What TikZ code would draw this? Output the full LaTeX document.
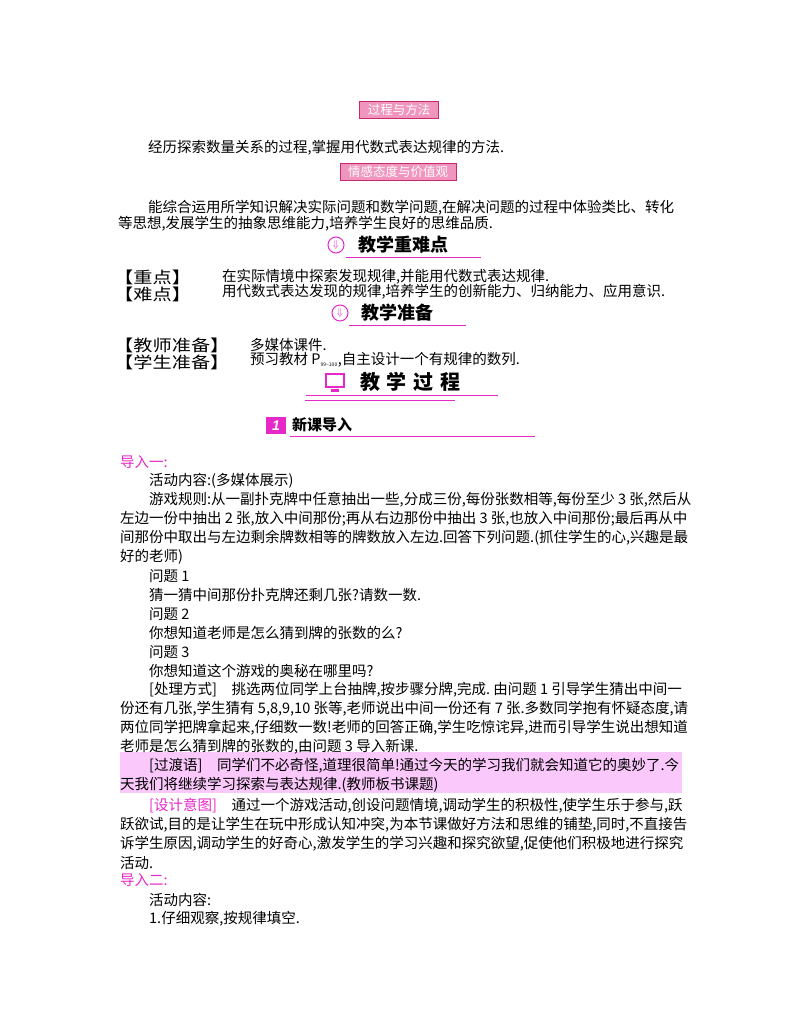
\documentclass[tikz,border=0pt]{standalone}
\usepackage{fontspec}
\setmainfont{Liberation Sans}
\newfontfamily\cjk{Noto Sans CJK SC}
\definecolor{pk}{RGB}{230,40,200}
\definecolor{hl}{RGB}{250,200,250}
\definecolor{hd}{RGB}{200,40,110}
\definecolor{bx}{RGB}{240,150,190}
\begin{document}
\begin{tikzpicture}[x=1pt,y=-1pt,
  ln/.style={anchor=west,inner sep=0pt,font=\cjk\fontsize{14.5}{16}\selectfont},
  lb/.style={anchor=west,inner sep=0pt,font=\cjk\fontsize{16}{16}\selectfont},
  tag/.style={draw=hd,fill=bx,text=white,inner xsep=8pt,inner ysep=2.5pt,line width=0.8pt,font=\cjk\fontsize{12.5}{14}\selectfont},
  hdr/.style={anchor=west,inner sep=0pt,font=\cjk\bfseries\fontsize{18}{20}\selectfont},
  icon/.style={circle,draw=pk,line width=1pt,minimum size=16pt,inner sep=0pt},
  ul/.style={draw=pk,line width=0.7pt}]
\useasboundingbox (0,0) rectangle (800,1028);
\fill[hl] (120,752) rectangle (682,793);
\node[tag] (t1) at (399,110) {过程与方法};
\node[ln] (l1) at (148,148) {经历探索数量关系的过程,掌握用代数式表达规律的方法.};
\node[tag] (t2) at (398,172) {情感态度与价值观};
\node[ln] (l2) at (148,208) {能综合运用所学知识解决实际问题和数学问题,在解决问题的过程中体验类比、转化};
\node[ln] (l3) at (118,224) {等思想,发展学生的抽象思维能力,培养学生良好的思维品质.};
\node[icon] (i1) at (336,245) {\textcolor{pk}{$\Downarrow$}};
\node[hdr] (h1) at (358,245) {教学重难点};
\draw[ul] (346,257) -- (481,257);
\node[lb,xscale=1.2,anchor=west] (z1) at (114,277) {【重点】};
\node[ln] (z1t) at (222,277) {在实际情境中探索发现规律,并能用代数式表达规律.};
\node[lb,xscale=1.2] (z2) at (114,294) {【难点】};
\node[ln] (z2t) at (222,292) {用代数式表达发现的规律,培养学生的创新能力、归纳能力、应用意识.};
\node[icon] (i2) at (340,313) {\textcolor{pk}{$\Downarrow$}};
\node[hdr] (h2) at (361,313) {教学准备};
\draw[ul] (349,325) -- (466,325);
\node[lb,xscale=1.2] (p1) at (114,345) {【教师准备】};
\node[ln] (p1t) at (250,345) {多媒体课件.};
\node[lb,xscale=1.2] (p2) at (114,362) {【学生准备】};
\node[ln] (p2t) at (250,360) {预习教材 P\textsubscript{\tiny 99\textasciitilde100},自主设计一个有规律的数列.};
\draw[pk,fill=white,line width=1.5pt] (326,374) rectangle (344,387);
\fill[pk] (331,389) rectangle (339,392);
\node[anchor=west,inner sep=0pt,font=\cjk\bfseries\fontsize{20}{22}\selectfont] (h3) at (360,382) {教\,\,学\,\,过\,\,程};
\draw[ul] (306,395) -- (498,395);
\draw[ul] (305,400) -- (455,400);
\fill[pk] (266,417) rectangle (286,434);
\node[font=\bfseries\itshape\fontsize{14}{14}\selectfont,text=white] (n1) at (276,425.5) {1};
\node[hdr,font=\cjk\bfseries\fontsize{15}{17}\selectfont] (h4) at (292,425) {新课导入};
\draw[ul] (290,436) -- (535,436);
\node[ln,text=pk] (d1) at (120,462) {导入一:};
\node[ln] (a1) at (149,481) {活动内容:(多媒体展示)};
\node[ln] (a2) at (149,500) {游戏规则:从一副扑克牌中任意抽出一些,分成三份,每份张数相等,每份至少 3 张,然后从};
\node[ln] (a3) at (120,519) {左边一份中抽出 2 张,放入中间那份;再从右边那份中抽出 3 张,也放入中间那份;最后再从中};
\node[ln] (a4) at (120,538) {间那份中取出与左边剩余牌数相等的牌数放入左边.回答下列问题.(抓住学生的心,兴趣是最};
\node[ln] (a5) at (120,557) {好的老师)};
\node[ln] (q1) at (149,576) {问题 1};
\node[ln] (q1t) at (149,595) {猜一猜中间那份扑克牌还剩几张?请数一数.};
\node[ln] (q2) at (149,614) {问题 2};
\node[ln] (q2t) at (149,633) {你想知道老师是怎么猜到牌的张数的么?};
\node[ln] (q3) at (149,652) {问题 3};
\node[ln] (q3t) at (149,671) {你想知道这个游戏的奥秘在哪里吗?};
\node[ln] (b1) at (149,690) {[处理方式]\quad 挑选两位同学上台抽牌,按步骤分牌,完成.\ 由问题 1 引导学生猜出中间一};
\node[ln] (b2) at (120,709) {份还有几张,学生猜有 5,8,9,10 张等,老师说出中间一份还有 7 张.多数同学抱有怀疑态度,请};
\node[ln] (b3) at (120,728) {两位同学把牌拿起来,仔细数一数!老师的回答正确,学生吃惊诧异,进而引导学生说出想知道};
\node[ln] (b4) at (120,747) {老师是怎么猜到牌的张数的,由问题 3 导入新课.};
\node[ln] (c1) at (149,766) {[过渡语]\quad 同学们不必奇怪,道理很简单!通过今天的学习我们就会知道它的奥妙了.今};
\node[ln] (c2) at (120,785) {天我们将继续学习探索与表达规律.(教师板书课题)};
\node[ln] (e1) at (149,806) {\textcolor{pk}{[设计意图]}\quad 通过一个游戏活动,创设问题情境,调动学生的积极性,使学生乐于参与,跃};
\node[ln] (e2) at (120,825) {跃欲试,目的是让学生在玩中形成认知冲突,为本节课做好方法和思维的铺垫,同时,不直接告};
\node[ln] (e3) at (120,844) {诉学生原因,调动学生的好奇心,激发学生的学习兴趣和探究欲望,促使他们积极地进行探究};
\node[ln] (e4) at (120,863) {活动.};
\node[ln,text=pk] (d2) at (120,880) {导入二:};
\node[ln] (f1) at (149,900) {活动内容:};
\node[ln] (f2) at (149,919) {1.仔细观察,按规律填空.};
\end{tikzpicture}
\end{document}
